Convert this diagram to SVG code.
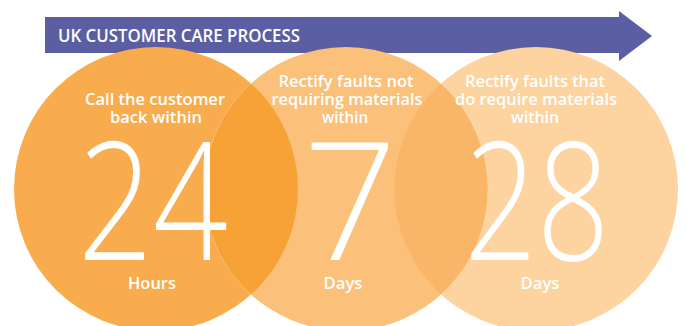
<svg xmlns="http://www.w3.org/2000/svg" width="687" height="326" viewBox="0 0 687 326">
  <style>
    .lbl { font-family: "Open Sans", "Liberation Sans", sans-serif; font-weight: 600; fill: #ffffff; text-anchor: middle; }
    .cap { font-size: 17px; }
    .big { font-family: "Open Sans", "Liberation Sans", sans-serif; font-weight: 300; font-size: 165px; fill: #ffffff; text-anchor: middle; }
    .unit { font-size: 16px; }
    .title { font-family: "Open Sans", "Liberation Sans", sans-serif; font-weight: 600; font-size: 18px; fill: #ffffff; }
    .lens { stroke: #ffffff; stroke-opacity: 0.35; stroke-width: 0.6; }
  </style>
  <defs>
    <clipPath id="clip1"><circle cx="156" cy="189" r="142"/></clipPath>
    <clipPath id="clip3"><circle cx="536" cy="189" r="142"/></clipPath>
  </defs>

  <g id="banner">
    <polygon points="45,17 619,17 619,11 652,36 619,61 619,53 45,53" fill="#5B5EA2"/>
    <text class="title" x="58" y="42" textLength="242" lengthAdjust="spacingAndGlyphs">UK CUSTOMER CARE PROCESS</text>
  </g>

  <g id="circles">
    <circle id="circle-24h" cx="156" cy="189" r="142" fill="#F9AC4E"/>
    <circle id="circle-7d" cx="346" cy="189" r="142" fill="#FBC07A"/>
    <circle id="circle-28d" cx="536" cy="189" r="142" fill="#FDD3A0"/>
    <circle class="lens" cx="346" cy="189" r="142" fill="#F6A236" clip-path="url(#clip1)"/>
    <circle class="lens" cx="346" cy="189" r="142" fill="#FAB668" clip-path="url(#clip3)"/>
  </g>

  <g id="node-24-hours">
    <text class="lbl cap" x="155" y="105" textLength="140" lengthAdjust="spacingAndGlyphs">Call the customer</text>
    <text class="lbl cap" x="156" y="123" textLength="92" lengthAdjust="spacingAndGlyphs">back within</text>
    <text class="big" x="153" y="260" textLength="150" lengthAdjust="spacingAndGlyphs">24</text>
    <text class="lbl unit" x="152" y="289" textLength="48" lengthAdjust="spacingAndGlyphs">Hours</text>
  </g>

  <g id="node-7-days">
    <text class="lbl cap" x="346" y="87" textLength="135" lengthAdjust="spacingAndGlyphs">Rectify faults not</text>
    <text class="lbl cap" x="347" y="105" textLength="151" lengthAdjust="spacingAndGlyphs">requiring materials</text>
    <text class="lbl cap" x="345" y="123" textLength="46" lengthAdjust="spacingAndGlyphs">within</text>
    <text class="big" x="350" y="260">7</text>
    <text class="lbl unit" x="343" y="289" textLength="39" lengthAdjust="spacingAndGlyphs">Days</text>
  </g>

  <g id="node-28-days">
    <text class="lbl cap" x="535" y="87" textLength="140" lengthAdjust="spacingAndGlyphs">Rectify faults that</text>
    <text class="lbl cap" x="536" y="105" textLength="162" lengthAdjust="spacingAndGlyphs">do require materials</text>
    <text class="lbl cap" x="535" y="123" textLength="48" lengthAdjust="spacingAndGlyphs">within</text>
    <text class="big" x="537" y="260" textLength="145" lengthAdjust="spacingAndGlyphs">28</text>
    <text class="lbl unit" x="540" y="289" textLength="39" lengthAdjust="spacingAndGlyphs">Days</text>
  </g>
</svg>
